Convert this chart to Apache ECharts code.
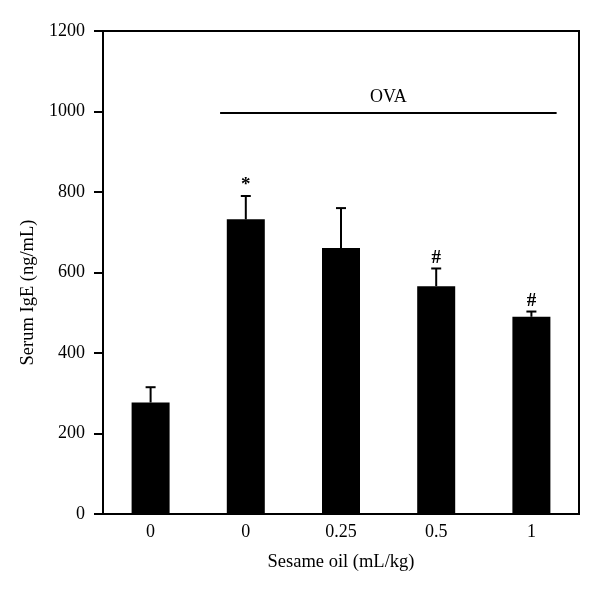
<!DOCTYPE html>
<html>
<head>
<meta charset="utf-8">
<script src="https://cdn.jsdelivr.net/npm/echarts@6/dist/echarts.min.js"></script>
<style>html,body{margin:0;padding:0;background:#fff}#c{width:600px;height:592px}</style>
</head>
<body>
<div id="c"></div>
<script>
const categories = ['0', '0', '0.25', '0.5', '1'];
const means = [277, 732, 661, 566, 490];
const upperErr = [315, 790, 760, 610, 503];
const marks = ['', '*', '', '#', '#'];
const yTicks = [0, 200, 400, 600, 800, 1000, 1200];
const ovaLabel = 'OVA';
const ovaLevel = 996;
const ovaFrom = 1, ovaTo = 4;

const FONT = 'Liberation Serif';
const chart = echarts.init(document.getElementById('c'));

const errData = means.map((m, i) => [i, m, upperErr[i], marks[i]]);

chart.setOption({
  animation: false,
  grid: { left: 103, right: 21, top: 31, bottom: 78, show: true, borderColor: '#000', borderWidth: 2 },
  xAxis: {
    type: 'category',
    data: categories,
    axisLine: { lineStyle: { color: '#000', width: 2 } },
    axisTick: { show: false },
    axisLabel: { color: '#000', fontFamily: FONT, fontSize: 18, margin: 9 },
    name: 'Sesame oil (mL/kg)',
    nameLocation: 'middle',
    nameGap: 39,
    nameTextStyle: { color: '#000', fontFamily: FONT, fontSize: 18.5 }
  },
  yAxis: {
    type: 'value',
    min: yTicks[0], max: yTicks[yTicks.length - 1], interval: 200,
    splitLine: { show: false },
    axisLine: { show: true, lineStyle: { color: '#000', width: 2 } },
    axisTick: { show: true, length: 9, lineStyle: { color: '#000', width: 2 } },
    axisLabel: { color: '#000', fontFamily: FONT, fontSize: 18, margin: 18, formatter: function (v) { return String(v); } },
    name: 'Serum IgE (ng/mL)',
    nameLocation: 'middle',
    nameGap: 64,
    nameTextStyle: { color: '#000', fontFamily: FONT, fontSize: 18.5, padding: [0, 40, 0, 0] }
  },
  series: [
    {
      type: 'bar',
      data: means,
      barWidth: 38,
      itemStyle: { color: '#000' },
      z: 2
    },
    {
      type: 'custom',
      data: errData,
      z: 3,
      renderItem: function (params, api) {
        const i = api.value(0);
        const base = api.coord([i, api.value(1)]);
        const top = api.coord([i, api.value(2)]);
        const mk = marks[i];
        const children = [
          { type: 'line', shape: { x1: base[0], y1: base[1], x2: top[0], y2: top[1] }, style: { stroke: '#000', lineWidth: 2 } },
          { type: 'line', shape: { x1: top[0] - 5, y1: top[1], x2: top[0] + 5, y2: top[1] }, style: { stroke: '#000', lineWidth: 2 } }
        ];
        if (mk) {
          children.push({ type: 'text', style: { text: mk, x: top[0], y: top[1] - 1, textAlign: 'center', textVerticalAlign: 'bottom', fill: '#000', font: 'bold 19px "' + FONT + '"' } });
        }
        return { type: 'group', children: children };
      }
    },
    {
      type: 'custom',
      data: [[ovaFrom, ovaTo, ovaLevel]],
      z: 3,
      renderItem: function (params, api) {
        const a = api.coord([api.value(0), api.value(2)]);
        const b = api.coord([api.value(1), api.value(2)]);
        const bw = api.size([1, 0])[0];
        const x1 = a[0] - bw * 0.27, x2 = b[0] + bw * 0.265;
        return {
          type: 'group',
          children: [
            { type: 'line', shape: { x1: x1, y1: a[1], x2: x2, y2: a[1] }, style: { stroke: '#000', lineWidth: 2 } },
            { type: 'text', style: { text: ovaLabel, x: (x1 + x2) / 2, y: a[1] - 7, textAlign: 'center', textVerticalAlign: 'bottom', fill: '#000', font: '18px "' + FONT + '"' } }
          ]
        };
      }
    }
  ]
});
</script>
</body>
</html>
